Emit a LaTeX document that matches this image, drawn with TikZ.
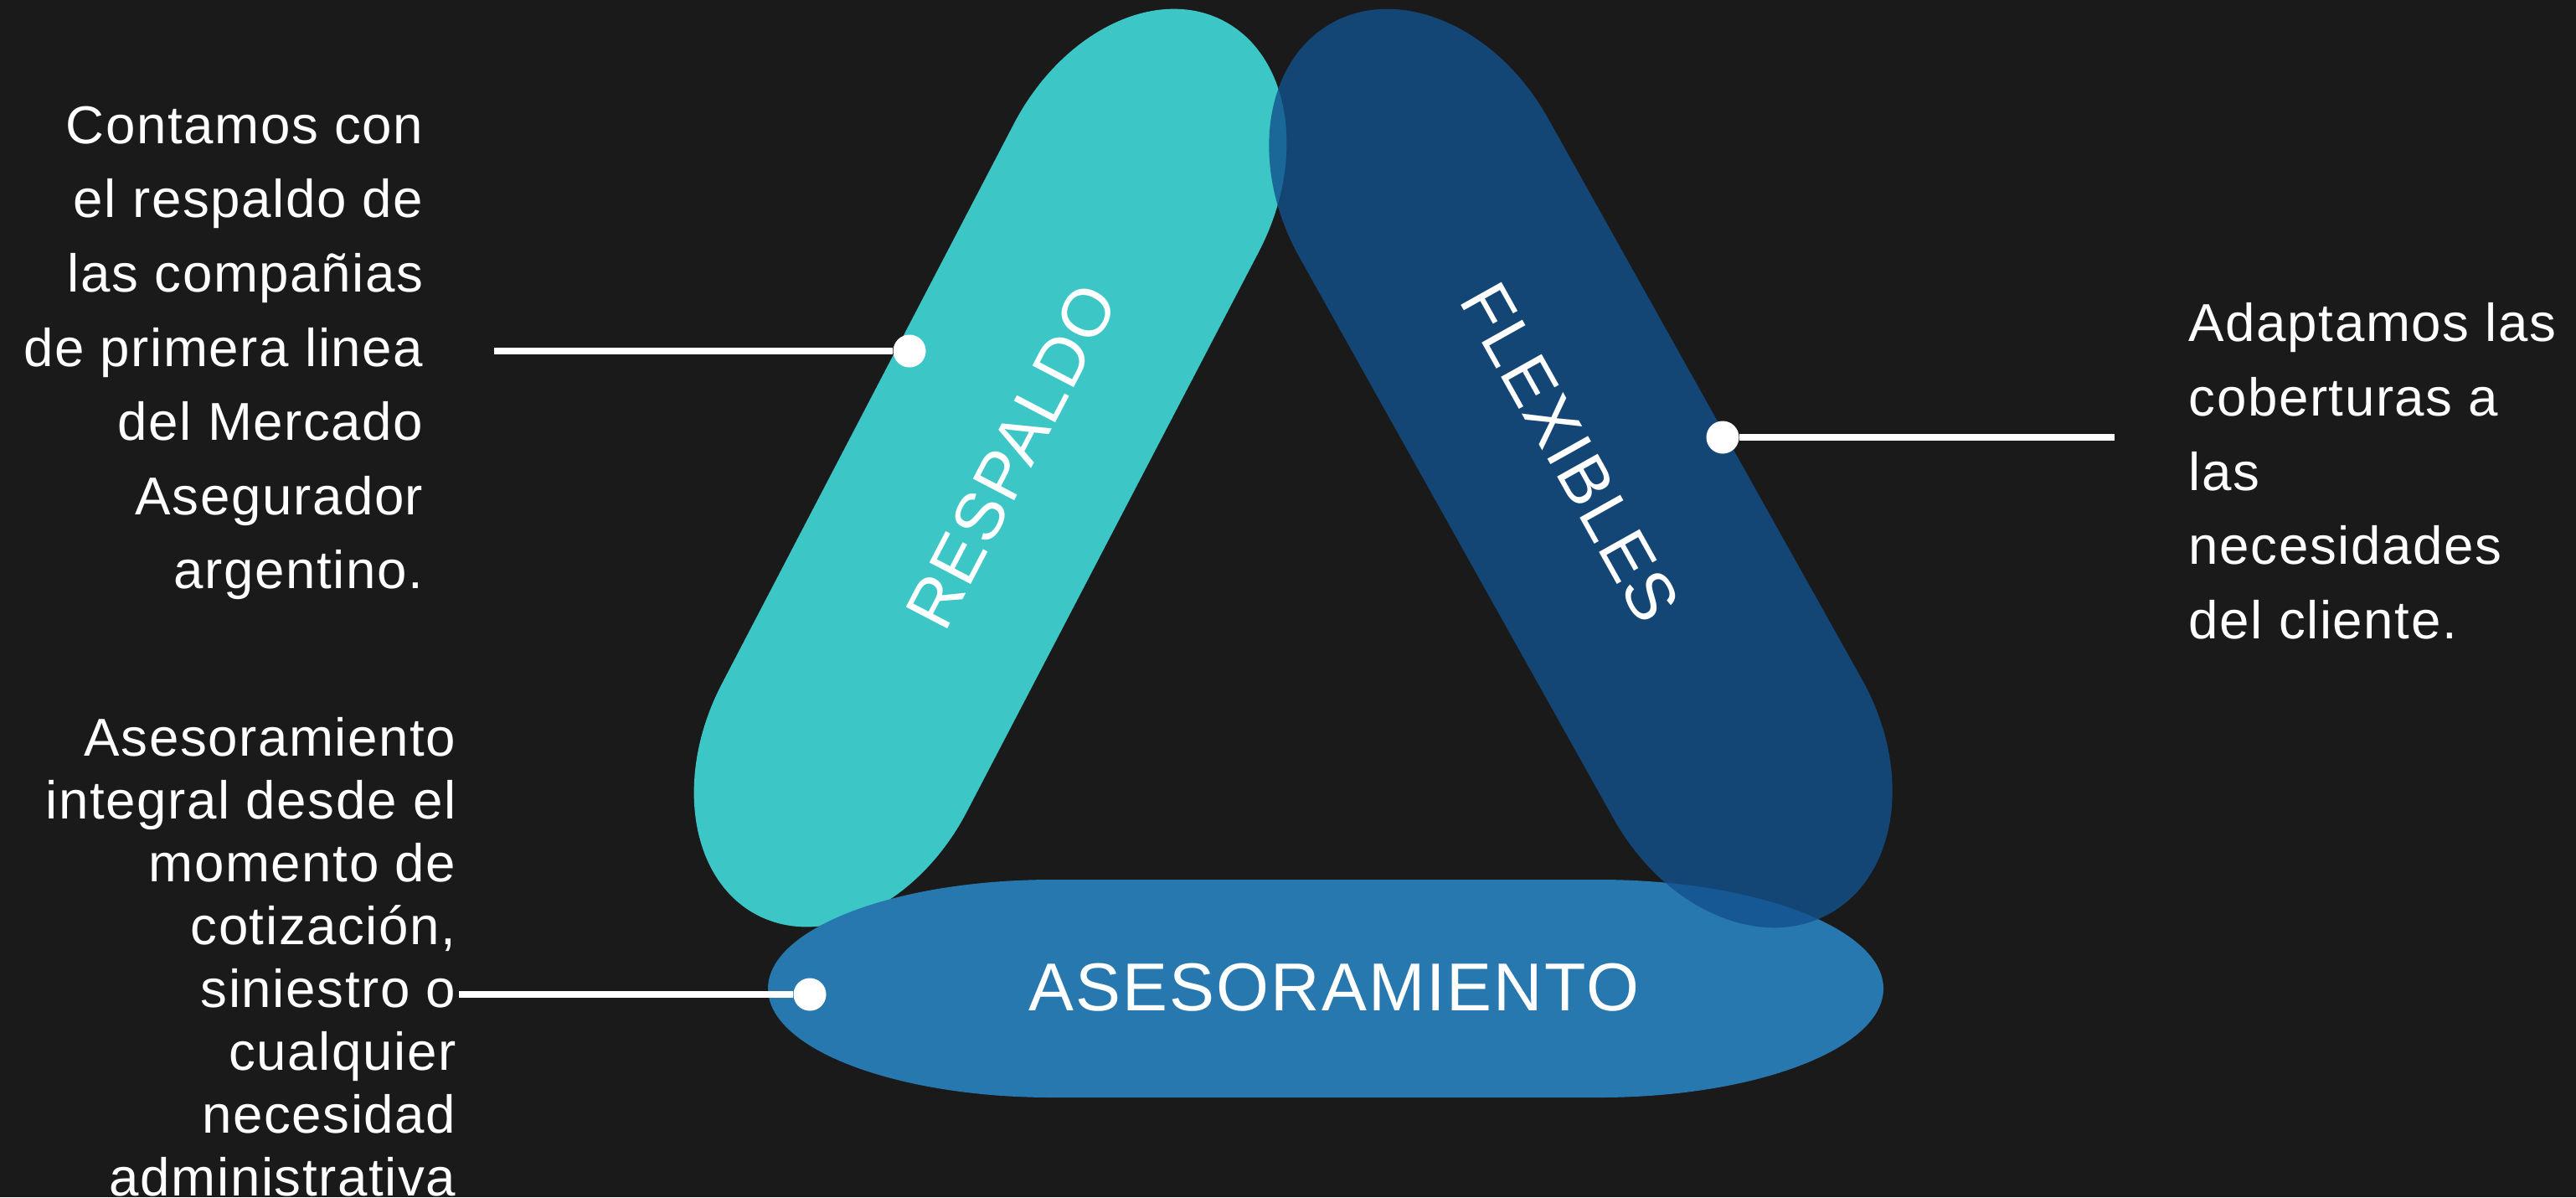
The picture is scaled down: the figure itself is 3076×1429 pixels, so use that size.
\documentclass[tikz,border=0pt]{standalone}
\usepackage{fontspec}
\setmainfont{Liberation Sans}[LetterSpace=2.5]
\definecolor{bgc}{HTML}{1A1A1A}
\definecolor{tealc}{HTML}{3CC6C6}
\definecolor{bluec}{HTML}{2878B0}
\definecolor{navyc}{HTML}{12518C}
\tikzset{
  pill/.style n args={3}{insert path={(-#1,#3) -- (#1,#3)
      arc[start angle=90,end angle=-90,x radius=#2,y radius=#3]
      -- (-#1,-#3)
      arc[start angle=270,end angle=90,x radius=#2,y radius=#3] -- cycle}},
  dotnode/.style={circle,fill=white,inner sep=0pt,minimum size=0.39cm},
  conn/.style={white,line width=2.4pt},
  body/.style={text=white,inner sep=0pt,font=\fontsize{18.1pt}{25.2pt}\selectfont},
  lbl/.style={text=white,inner sep=0pt,font=\fontsize{23pt}{27pt}\selectfont}
}
\begin{document}
\begin{tikzpicture}[x=0.01cm,y=-0.01cm]
\fill[bgc] (0,0) rectangle (3076,1429);
\useasboundingbox (0,0) rectangle (3076,1429);
% shapes
\begin{scope}[shift={(1182.5,558.5)},rotate=62.45]
  \fill[tealc, pill={377}{225}{165}];
\end{scope}
\begin{scope}[shift={(1583,1180)}]
  \fill[bluec, pill={326}{340}{130}];
\end{scope}
\begin{scope}[shift={(1887.5,559)},rotate=-60.76]
  \fill[navyc, fill opacity=0.8, pill={384}{225}{170}];
\end{scope}
% shape labels
\node[lbl,rotate=62.45] (rlab) at (1208,545) {RESPALDO};
\node[lbl,rotate=-60.76] (flab) at (1875,540) {FLEXIBLES};
\node[lbl] (alab) at (1593,1179) {ASESORAMIENTO};
% side texts
\node[body,align=right,anchor=north east] (t1) at (506,126)
  {Contamos con\\el respaldo de\\las compañias\\de primera linea\\del Mercado\\Asegurador\\argentino.};
\node[body,align=right,anchor=north east,font=\fontsize{18.1pt}{21.3pt}\selectfont] (t2) at (545,856)
  {Asesoramiento\\integral desde el\\momento de\\cotización,\\siniestro o\\cualquier\\necesidad\\administrativa};
\node[body,align=left,anchor=north west] (t3) at (2613,361)
  {Adaptamos las\\coberturas a\\las\\necesidades\\del cliente.};
% connectors
\node[dotnode] (d1) at (1086,419) {};
\node[dotnode] (d2) at (2057,522) {};
\node[dotnode] (d3) at (967,1187) {};
\coordinate (c1) at (590,419);
\coordinate (c2) at (2525,522);
\coordinate (c3) at (548,1187);
\draw[conn] (c1) -- (d1);
\draw[conn] (d2) -- (c2);
\draw[conn] (c3) -- (d3);
\end{tikzpicture}
\end{document}
